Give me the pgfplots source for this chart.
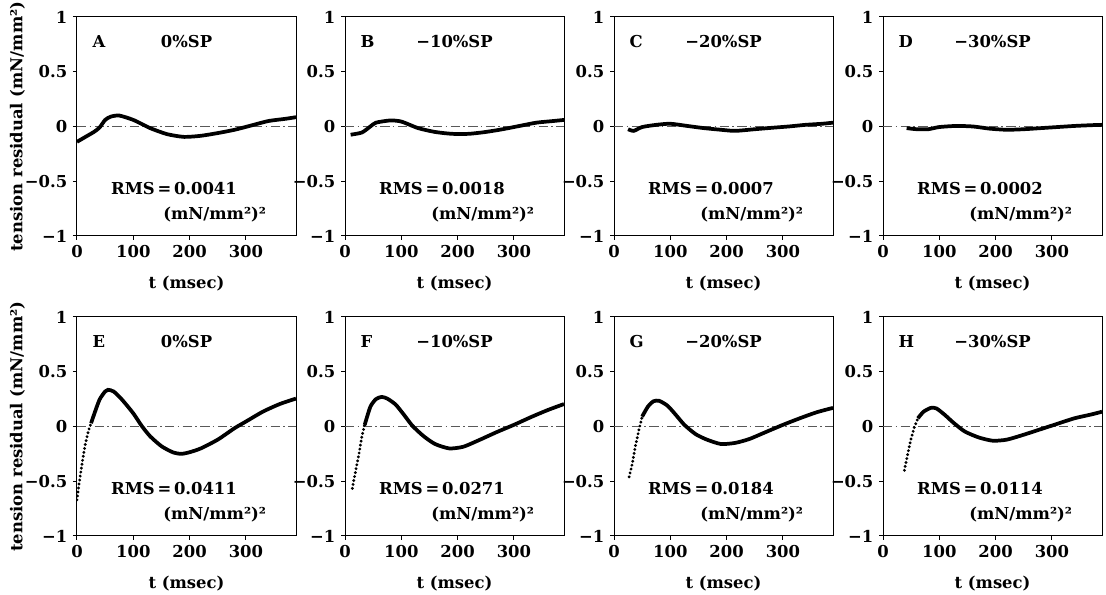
\documentclass[border=0pt]{standalone}
\usepackage{fontspec}
\setmainfont{DejaVu Serif}
\usepackage{pgfplots}
\pgfplotsset{compat=1.18}

\pgfplotsset{
 panel/.style={
  width=164.25pt,height=164.25pt,scale only axis,
  xmin=0,xmax=389,ymin=-1,ymax=1,
  xtick={0,100,200,300},xticklabels={0,100,200,300},
  ytick={-1,-0.5,0,0.5,1},yticklabels={−1,−0.5,0,0.5,1},
  tick pos=left,tick align=outside,major tick length=3pt,
  tick style={black,line width=0.75pt},
  axis line style={line width=0.75pt},
  xlabel={t (msec)},
  xlabel style={at={(axis description cs:0.5,-0.215)},anchor=center},
 },
 zeroline/.style={gray!70!black,line width=0.7pt,dash pattern=on 7pt off 2.5pt on 1.2pt off 2.5pt},
 trace/.style={black,line width=2.8pt,smooth,tension=0.4},
 dots/.style={black,line width=2.4pt,line cap=round,dash pattern=on 0pt off 3pt},
}
\newcommand\panelnotes[3]{%
 \node[anchor=west] at (rel axis cs:0.045,0.886) {#1};
 \node at (rel axis cs:0.5,0.886) {#2};
 \node[anchor=west] at (rel axis cs:0.13,0.215) {RMS\,=\,#3};
 \node[anchor=east] at (rel axis cs:0.89,0.1) {(mN/mm²)²};
}

\begin{document}
\fontsize{12.3pt}{14pt}\selectfont\bfseries
\begin{tikzpicture}
\path[use as bounding box] (0,0) rectangle (829.5pt,446.25pt);

% ---- row 1 ----
\begin{axis}[panel,at={(57.75pt,269.25pt)},ylabel={tension residual (mN/mm²)},
 ylabel style={at={(axis description cs:-0.272,0.5)},anchor=center}]
\addplot[zeroline] coordinates {(0,0) (389,0)};
\addplot[trace] coordinates {(0,-0.14) (10,-0.11) (20,-0.08) (30,-0.05) (40,-0.01) (50,0.06) (60,0.09) (75,0.1) (100,0.06) (130,-0.015) (160,-0.07) (190,-0.095) (220,-0.085) (250,-0.06) (280,-0.03) (310,0.01) (340,0.05) (370,0.07) (389,0.085)};
\panelnotes{A}{0\%SP}{0.0041}
\end{axis}

\begin{axis}[panel,at={(258.75pt,269.25pt)}]
\addplot[zeroline] coordinates {(0,0) (389,0)};
\addplot[trace] coordinates {(10,-0.075) (30,-0.055) (45,0) (55,0.035) (80,0.055) (100,0.045) (130,-0.015) (160,-0.05) (190,-0.067) (220,-0.067) (250,-0.05) (280,-0.025) (310,0.005) (340,0.035) (370,0.05) (389,0.06)};
\panelnotes{B}{−10\%SP}{0.0018}
\end{axis}

\begin{axis}[panel,at={(460.5pt,269.25pt)}]
\addplot[zeroline] coordinates {(0,0) (389,0)};
\addplot[trace] coordinates {(25,-0.025) (35,-0.04) (50,-0.005) (75,0.015) (100,0.025) (130,0.005) (160,-0.015) (190,-0.03) (215,-0.04) (250,-0.025) (280,-0.012) (310,0) (340,0.015) (370,0.025) (389,0.035)};
\panelnotes{C}{−20\%SP}{0.0007}
\end{axis}

\begin{axis}[panel,at={(662.25pt,269.25pt)}]
\addplot[zeroline] coordinates {(0,0) (389,0)};
\addplot[trace] coordinates {(42,-0.015) (60,-0.025) (80,-0.025) (100,-0.005) (130,0.005) (160,0) (190,-0.02) (220,-0.03) (250,-0.025) (280,-0.015) (310,-0.005) (340,0.005) (370,0.012) (389,0.015)};
\panelnotes{D}{−30\%SP}{0.0002}
\end{axis}

% ---- row 2 ----
\begin{axis}[panel,at={(57.75pt,44.25pt)},ylabel={tension residual (mN/mm²)},
 ylabel style={at={(axis description cs:-0.272,0.5)},anchor=center}]
\addplot[zeroline] coordinates {(0,0) (389,0)};
\addplot[dots] coordinates {(0,-0.67) (3,-0.55) (8,-0.37) (14,-0.18) (20,-0.045) (25,0.03)};
\addplot[trace] coordinates {(25,0.03) (30,0.105) (40,0.245) (50,0.32) (55,0.335) (65,0.32) (80,0.245) (100,0.12) (115,0.005) (130,-0.09) (150,-0.18) (170,-0.235) (185,-0.25) (200,-0.235) (220,-0.2) (250,-0.12) (280,-0.015) (300,0.045) (330,0.135) (360,0.205) (389,0.255)};
\panelnotes{E}{0\%SP}{0.0411}
\end{axis}

\begin{axis}[panel,at={(258.75pt,44.25pt)}]
\addplot[zeroline] coordinates {(0,0) (389,0)};
\addplot[dots] coordinates {(13,-0.565) (18,-0.43) (25,-0.245) (30,-0.09) (35,0.015)};
\addplot[trace] coordinates {(35,0.015) (45,0.18) (55,0.25) (65,0.27) (75,0.255) (90,0.2) (105,0.105) (120,0.005) (140,-0.09) (160,-0.16) (185,-0.2) (210,-0.185) (240,-0.12) (270,-0.05) (300,0.015) (330,0.085) (360,0.15) (389,0.205)};
\panelnotes{F}{−10\%SP}{0.0271}
\end{axis}

\begin{axis}[panel,at={(460.5pt,44.25pt)}]
\addplot[zeroline] coordinates {(0,0) (389,0)};
\addplot[dots] coordinates {(27,-0.46) (32,-0.35) (38,-0.18) (45,-0.015) (50,0.09)};
\addplot[trace] coordinates {(50,0.09) (60,0.18) (70,0.23) (80,0.235) (95,0.19) (110,0.105) (125,0.015) (145,-0.07) (165,-0.12) (190,-0.16) (215,-0.15) (240,-0.115) (270,-0.05) (300,0.015) (330,0.075) (360,0.13) (389,0.17)};
\panelnotes{G}{−20\%SP}{0.0184}
\end{axis}

\begin{axis}[panel,at={(662.25pt,44.25pt)}]
\addplot[zeroline] coordinates {(0,0) (389,0)};
\addplot[dots] coordinates {(38,-0.4) (42,-0.3) (48,-0.15) (55,-0.015) (62,0.075)};
\addplot[trace] coordinates {(62,0.075) (72,0.135) (85,0.17) (95,0.165) (110,0.105) (125,0.035) (145,-0.045) (170,-0.1) (195,-0.13) (220,-0.12) (250,-0.075) (280,-0.025) (310,0.025) (340,0.075) (370,0.11) (389,0.135)};
\panelnotes{H}{−30\%SP}{0.0114}
\end{axis}
\end{tikzpicture}
\end{document}
